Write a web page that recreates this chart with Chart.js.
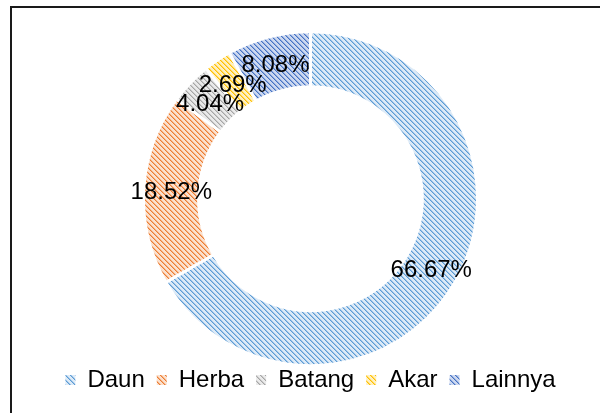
<!DOCTYPE html>
<html>
<head>
<meta charset="utf-8">
<script src="https://cdn.jsdelivr.net/npm/chart.js@4/dist/chart.umd.min.js"></script>
<style>
  html, body { margin: 0; padding: 0; background: #fff; }
  #wrap { position: relative; width: 600px; height: 413px; overflow: hidden; }
  #frame { position: absolute; left: 10px; top: 6px; width: 700px; height: 500px;
           border: 2px solid #1a1a1a; pointer-events: none; }
  canvas { position: absolute; left: 0; top: 0; }
</style>
</head>
<body>
<div id="wrap">
  <canvas id="chart" width="600" height="413"></canvas>
  <div id="frame"></div>
</div>
<script>
// data
const categories = ["Daun", "Herba", "Batang", "Akar", "Lainnya"];
const shares = [66.67, 18.52, 4.04, 2.69, 8.08];
const stripeColors = ["#5B9BD5", "#ED7D31", "#A5A5A5", "#FFC000", "#4472C4"];
const midColors    = ["#9DC3E6", "#F4B183", "#C9C9C9", "#FFD966", "#8FAADC"];
const baseColors   = ["#DCEAF7", "#FBE0CD", "#EAEAEA", "#FFF0C0", "#CCD8F0"];

// diagonal hatch like the office "wide downward diagonal" fill
function makeHatch(fg, mid, bg) {
  const size = 5;
  const tile = document.createElement("canvas");
  tile.width = tile.height = size;
  const g = tile.getContext("2d");
  g.fillStyle = bg;
  g.fillRect(0, 0, size, size);
  for (let y = 0; y < size; y++) {
    g.fillStyle = fg;
    g.fillRect(y, y, 1, 1);
    g.fillStyle = mid;
    g.fillRect((y + 1) % size, y, 1, 1);
  }
  return g.createPattern(tile, "repeat");
}

const hatches = stripeColors.map((c, i) => makeHatch(c, midColors[i], baseColors[i]));

// percent labels in the middle of each ring slice
const sliceLabels = {
  id: "sliceLabels",
  afterDatasetsDraw(chart) {
    const ctx = chart.ctx;
    const meta = chart.getDatasetMeta(0);
    ctx.save();
    ctx.font = '24px "Liberation Sans", Arial, sans-serif';
    ctx.fillStyle = "#000";
    ctx.textAlign = "center";
    ctx.textBaseline = "middle";
    meta.data.forEach((arc, i) => {
      const p = arc.tooltipPosition();
      ctx.fillText(shares[i].toFixed(2) + "%", p.x, p.y + 2);
    });
    ctx.restore();
  }
};

const baseLegendLabels = Chart.overrides.doughnut.plugins.legend.labels.generateLabels;

new Chart(document.getElementById("chart"), {
  type: "doughnut",
  data: {
    labels: categories,
    datasets: [{
      data: shares,
      backgroundColor: hatches,
      borderColor: "#fff",
      borderWidth: 3
    }]
  },
  options: {
    responsive: false,
    animation: false,
    radius: 167,
    cutout: "67%",
    layout: { padding: { left: 21, right: 0, top: 41.5, bottom: 11 } },
    plugins: {
      tooltip: { enabled: false },
      legend: {
        position: "bottom",
        labels: {
          boxWidth: 10,
          boxHeight: 10,
          padding: 12,
          color: "#000",
          font: { family: '"Liberation Sans", Arial, sans-serif', size: 24 },
          generateLabels(chart) {
            return baseLegendLabels(chart).map(l => ({ ...l, lineWidth: 0, strokeStyle: "rgba(0,0,0,0)" }));
          }
        }
      }
    }
  },
  plugins: [sliceLabels]
});
</script>
</body>
</html>
